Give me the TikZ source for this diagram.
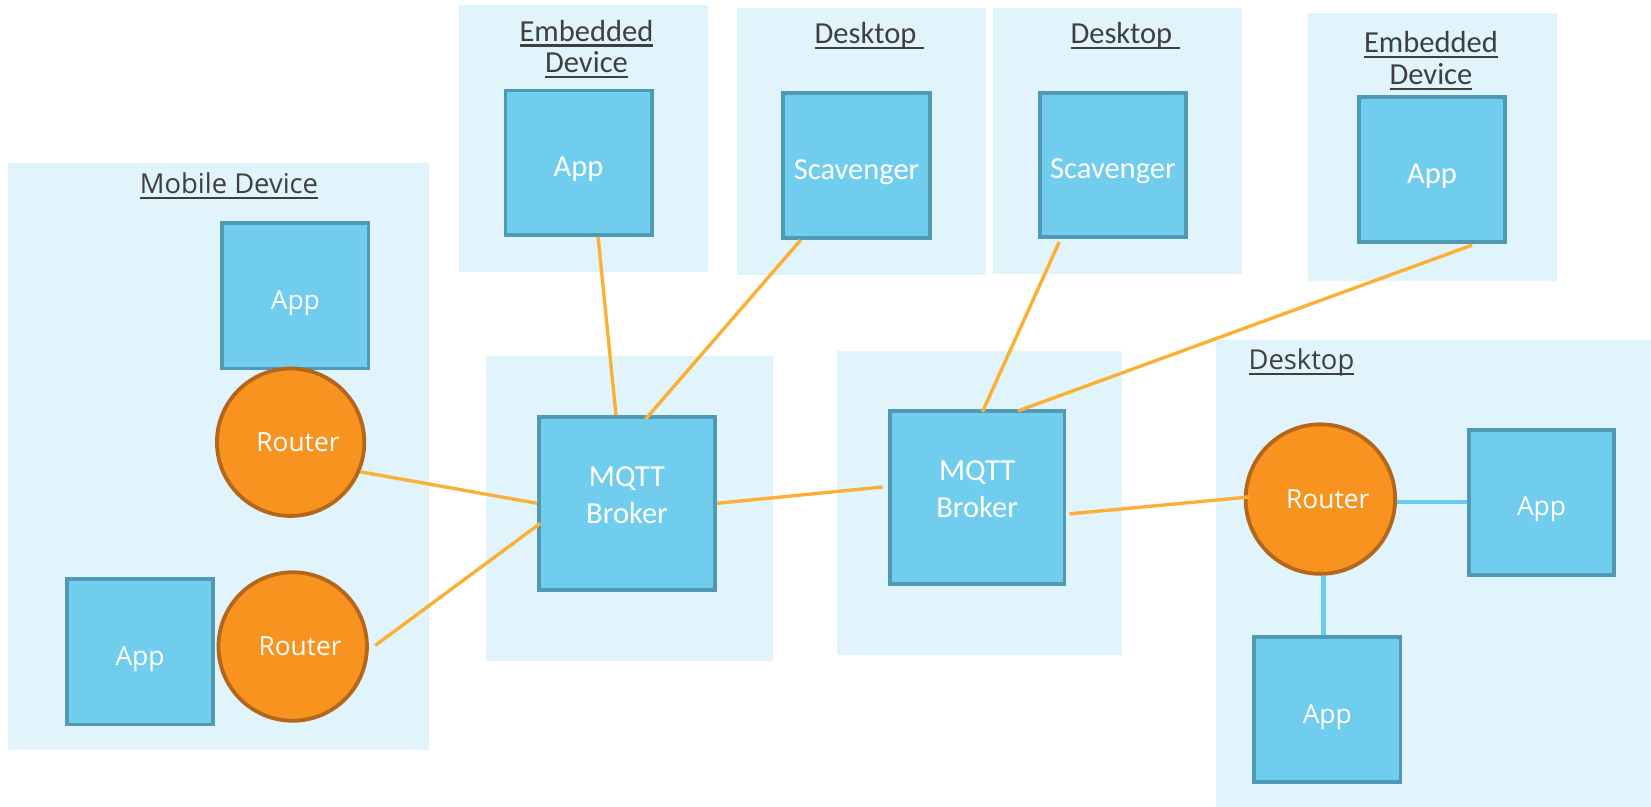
\documentclass[tikz,border=0pt]{standalone}
\usepackage{fontspec}
\setmainfont{Open Sans}
\newfontfamily\calfont{Carlito}
\usetikzlibrary{calc}

\definecolor{zonebg}{HTML}{E1F3FB}
\definecolor{boxfill}{HTML}{70CDEE}
\definecolor{boxline}{HTML}{4F99B4}
\definecolor{routerfill}{HTML}{F7931E}
\definecolor{routerline}{HTML}{B4661B}
\definecolor{linkorange}{HTML}{FBB034}
\definecolor{linkblue}{HTML}{6CCBEE}
\definecolor{titlegray}{HTML}{3F3F3F}

% underlined title text; optional argument extends the rule to the right
\newcommand{\uln}[2][0pt]{\leavevmode\setbox0=\hbox{#2}%
  \rlap{\rule[-2.6pt]{\dimexpr\wd0+#1\relax}{1pt}}\box0}

\begin{document}
\begin{tikzpicture}[x=0.5pt, y=-0.5pt,
  zone/.style={rectangle, fill=zonebg, draw=none, inner sep=0pt},
  seg/.style={font=\fontsize{12.5}{15}\selectfont},
  segt/.style={font=\fontsize{13}{15}\selectfont},
  cal/.style={font=\calfont\fontsize{14.5}{15}\selectfont},
  unit/.style={rectangle, fill=boxfill, draw=boxline, line width=1.8pt,
    text=white, inner sep=0pt, align=center, text height=14pt, text depth=1pt},
  router/.style={circle, fill=routerfill, draw=routerline, line width=1.8pt,
    text=white, inner sep=0pt, seg},
  title/.style={text=titlegray, inner sep=0pt, anchor=base, align=center},
  blabel/.style={font=\calfont\fontsize{14.5}{17.5}\selectfont, text=white,
    align=center, yshift=4pt},
  olink/.style={draw=linkorange, line width=1.6pt},
  blink/.style={draw=linkblue, line width=2pt}]

\useasboundingbox (0,0) rectangle (1568,766);

% ---- background zones ----
\node[zone, minimum width=199.5pt, minimum height=278.5pt] (zMobile) at (207.5,433.5) {};
\node[zone, minimum width=118pt,   minimum height=126.5pt] (zEmbA)   at (554,131.5) {};
\node[zone, minimum width=118pt,   minimum height=126.5pt] (zDeskA)  at (818,134.5) {};
\node[zone, minimum width=118.5pt, minimum height=126pt]   (zDeskB)  at (1061.5,134) {};
\node[zone, minimum width=118.5pt, minimum height=127.5pt] (zEmbB)   at (1360.5,139.5) {};
\node[zone, minimum width=136pt,   minimum height=145pt]   (zBrkA)   at (598,483) {};
\node[zone, minimum width=135.5pt, minimum height=144.5pt] (zBrkB)   at (930.5,477.5) {};
\node[zone, minimum width=206.5pt, minimum height=221.5pt] (zDeskC)  at (1361.5,544.5) {};

% ---- zone titles (base anchor sits on the last line) ----
\node[title, segt] (tMobile) at (217.5,184) {\uln{Mobile Device}};
\node[title, cal]  (tEmbA)   at (557,69)    {\uln{Embedded}\\\uln{Device}};
\node[title, cal]  (tDeskA)  at (822,41)    {\uln[3.5pt]{Desktop}};
\node[title, cal]  (tDeskB)  at (1065,41)   {\uln[3.5pt]{Desktop}};
\node[title, cal]  (tEmbB)   at (1359,80)   {\uln{Embedded}\\\uln{Device}};
\node[title, segt] (tDeskC)  at (1236,351)  {\uln{Desktop}};

% ---- mobile device ----
\node[unit, seg, minimum width=69.5pt, minimum height=69pt] (mApp)  at (280.5,281) {App};
\node[router, minimum size=70pt]   (mR1) at (276,420) {\hspace*{7pt}Router};
\node[unit, seg, minimum width=69pt, minimum height=69pt]   (mApp2) at (133,619) {App};
\node[router, minimum size=70.5pt] (mR2) at (278,614) {\hspace*{7pt}Router};

% ---- top row ----
\node[unit, cal, minimum width=69.5pt, minimum height=68.5pt] (eAppA) at (549.5,154.5) {App};
\node[unit, cal, minimum width=69.5pt, minimum height=69pt]   (scavA) at (813.5,157) {Scavenger};
\node[unit, cal, minimum width=69pt,   minimum height=68.5pt] (scavB) at (1057,156.5) {Scavenger};
\node[unit, cal, minimum width=69pt,   minimum height=69pt]   (eAppB) at (1360,161) {App};

% ---- brokers ----
\node[unit, minimum width=83.5pt, minimum height=82pt,
  label={[blabel]center:{MQTT\\Broker}}] (brkA) at (595.5,478) {};
\node[unit, minimum width=83pt, minimum height=82.5pt,
  label={[blabel]center:{MQTT\\Broker}}] (brkB) at (928,472.5) {};

% ---- desktop with router ----
\node[router, minimum size=71pt] (dR) at (1254,474) {\hspace*{7pt}Router};
\node[unit, seg, minimum width=69pt,   minimum height=69pt] (dAppA) at (1464,477) {App};
\node[unit, seg, minimum width=69.5pt, minimum height=69pt] (dAppB) at (1260.5,674) {App};

% ---- links ----
\draw[olink] ($(eAppA.south)+(18.5,0)$) -- ($(brkA.north)+(-10.5,0)$);
\draw[olink] ($(scavA.south)+(-53,0)$) -- ($(brkA.north)+(17.5,4)$);
\draw[olink] (mR1.-23) -- (brkA.west);
\draw[olink] ($(mR2.east)+(6,-1)$) -- ($(brkA.west)+(3,19)$);
\draw[olink] (brkA.east) -- ($(brkB.west)+(-5,-10)$);
\draw[olink] ($(scavB.south)+(-51,3)$) -- ($(brkB.north)+(5,3)$);
\draw[olink] ($(eAppB.south)+(38,1)$) -- ($(brkB.north)+(39,2)$);
\draw[olink] ($(brkB.east)+(3,15.5)$) -- ($(dR.west)+(5,-2)$);
\draw[blink] ($(dR.east)+(0,3)$) -- (dAppA.west);
\draw[blink] ($(dR.south)+(3,0)$) -- ($(dAppB.north)+(-3.5,0)$);

\end{tikzpicture}
\end{document}
